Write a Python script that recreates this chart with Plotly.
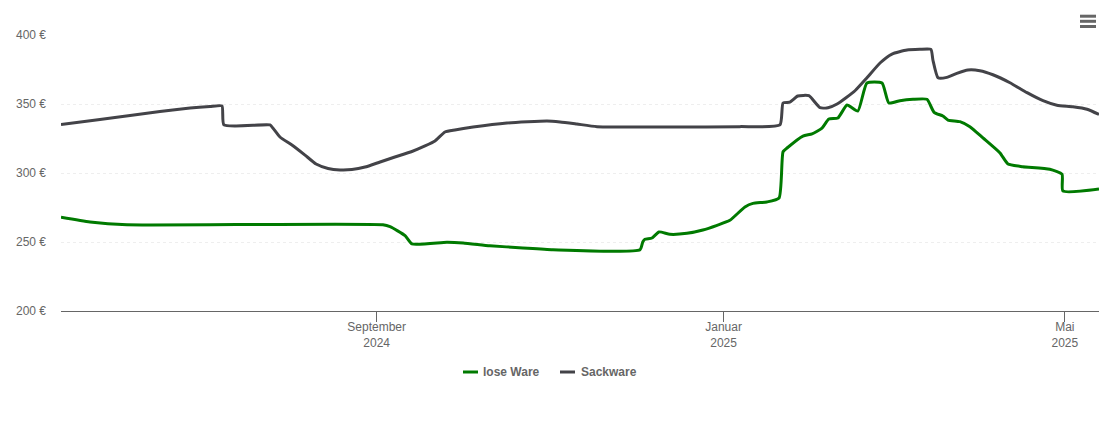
import pandas as pd
import plotly.graph_objects as go

base_date = "2024-05-13"
range_end = "2025-05-13"

sack_days = [0, 13.7, 24.3, 34.8, 45.4, 52.4, 56.6, 57.3, 73.5, 74.5, 77, 81.2, 85.8, 89.7, 93.9, 98.1, 102.3, 106.9,
             112.2, 117.4, 123.4, 128, 131.5, 135, 138.5, 144.9, 156.8, 170.9, 175.5, 181.4, 188.5, 215.2, 238.7,
             252.8, 253.9, 256.3, 259.1, 263, 266.9, 269.7, 272.9, 279.2, 283.4, 288, 292.2, 297.5, 302, 305.9,
             306.6, 308.4, 311.5, 315, 318.9, 323.1, 327.7, 333.7, 339.7, 345.3, 350.2, 355.8, 360.8, 365]
sack_vals = [335.1, 338.8, 341.7, 344.6, 347.1, 348.2, 348.6, 334.8, 334.8, 332.6, 326.1, 320.3, 313, 306.5, 303.3,
             302.2, 302.5, 304.3, 308, 311.6, 315.6, 319.6, 323.2, 329.7, 331.2, 333.3, 336.2, 337.7, 337, 335.5,
             333.6, 333.3, 333.6, 334.8, 350.7, 351.4, 355.8, 356, 347.3, 347.3, 350, 359.6, 369, 379.7, 386.2,
             389.1, 389.6, 389.6, 381.9, 369, 369.3, 372.2, 374.6, 374.1, 371.2, 365.4, 358.2, 352.4, 349.1, 348,
             346.2, 342.4]

lose_days = [0, 10.2, 23.2, 113.2, 115.7, 121, 123.4, 135.7, 141.4, 150.8, 162.4, 173, 203.6, 204.6, 205.3, 207.8,
             210.3, 214.1, 220.1, 225.7, 230.7, 235.2, 240.5, 243.3, 248.2, 252.5, 253.9, 255.3, 260.9, 264.1,
             267.6, 270, 273.2, 276.4, 280.2, 283.4, 288.7, 291.1, 295, 299.6, 304.5, 307, 310.1, 311.9, 316.1,
             319.6, 324.2, 330.2, 333, 338.2, 347.7, 352, 352.3, 365]
lose_vals = [267.9, 264.5, 262.5, 262.5, 261.1, 254.6, 248.6, 249.8, 249.3, 247.3, 245.7, 244.4, 244.4, 250.2, 252,
             252.9, 257.3, 255.6, 256.3, 258.7, 262.1, 265.7, 275.4, 278, 279, 281.9, 315.4, 318.1, 326.8, 328.3,
             332.6, 339.1, 339.9, 349.3, 344.9, 365.2, 365.2, 350.7, 352.4, 353.4, 353.4, 344, 341.3, 338.4, 337.2,
             333.6, 325.4, 314.5, 306.5, 304.6, 302.7, 299.1, 287, 288.4]

x_ticks = ["2024-09-01", "2025-01-01", "2025-05-01"]
x_labels = ["September<br>2024", "Januar<br>2025", "Mai<br>2025"]
y_ticks = [200, 250, 300, 350, 400]
y_labels = ["200 €", "250 €", "300 €", "350 €", "400 €"]
names = ["lose Ware", "Sackware"]
colors = ["#007a00", "#434348"]

W, H = 1110, 422
L, R, T, B = 61, 11, 35, 111
PW, PH = W - L - R, H - T - B
FONT = "Liberation Sans, Arial, sans-serif"


def to_dates(days):
    return pd.Timestamp(base_date) + pd.to_timedelta(days, unit="D")


def px(v):
    return (v - L) / PW


def py(v):
    return (H - B - v) / PH


fig = go.Figure()
for name, days, vals, color in [(names[0], lose_days, lose_vals, colors[0]),
                                (names[1], sack_days, sack_vals, colors[1])]:
    fig.add_trace(go.Scatter(x=to_dates(days), y=vals, mode="lines", name=name, showlegend=False,
                             line=dict(color=color, width=3, shape="spline", smoothing=0.5),
                             cliponaxis=False))

shapes = []
for yy in (16.2, 21.3, 26.5):
    shapes.append(dict(type="line", xref="paper", yref="paper", x0=px(1080), x1=px(1096), y0=py(yy), y1=py(yy),
                       line=dict(color="#666666", width=3)))
annotations = []
for name, color, gx, tx in [(names[0], colors[0], 463, 483), (names[1], colors[1], 560, 580.5)]:
    shapes.append(dict(type="line", xref="paper", yref="paper", x0=px(gx), x1=px(gx + 15), y0=py(372), y1=py(372),
                       line=dict(color=color, width=3)))
    annotations.append(dict(text=f"<b>{name}</b>", xref="paper", yref="paper", x=px(tx), y=py(372),
                            xanchor="left", yanchor="middle", showarrow=False, xshift=-2,
                            font=dict(family=FONT, size=12, color="#666666")))

fig.update_layout(
    width=W, height=H, margin=dict(l=L, r=R, t=T, b=B, pad=0),
    plot_bgcolor="white", paper_bgcolor="white", showlegend=False,
    font=dict(family=FONT, size=12, color="#666666"),
    shapes=shapes, annotations=annotations,
    xaxis=dict(type="date", range=[base_date, range_end], tickmode="array", tickvals=x_ticks, ticktext=x_labels,
               ticks="outside", ticklen=10, tickwidth=1, tickcolor="#666666", showgrid=False,
               showline=True, linecolor="#666666", linewidth=1, zeroline=False, ticklabelstandoff=-5,
               tickfont=dict(family=FONT, size=12, color="#666666")),
    yaxis=dict(range=[200, 400], tickmode="array", tickvals=y_ticks, ticktext=y_labels, showgrid=True,
               gridcolor="#eeeeee", griddash="dot", gridwidth=1, zeroline=False, showline=False,
               ticks="", ticklabelstandoff=14, tickfont=dict(family=FONT, size=12, color="#666666")),
)

fig.write_html("out.html", post_script="document.body.style.margin='0';", config={"displayModeBar": False})
